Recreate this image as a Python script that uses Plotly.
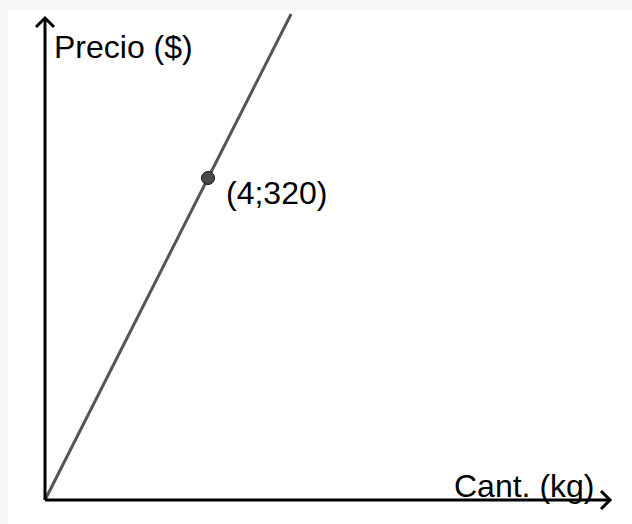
import plotly.graph_objects as go

# ---- data ----
line_x = [0, 6.04]          # kg
line_y = [0, 483]           # $
point_x = [4]
point_y = [320]
point_label = ["(4;320)"]
x_title = "Cant. (kg)"
y_title = "Precio ($)"

W, H = 632, 524
# pixel mapping (origin at pixel 45,500)
OX, OY = 45, 500
SX = 163 / 4.0      # px per kg
SY = 322 / 320.0    # px per $
x_range = [-OX / SX, (W - OX) / SX]
y_range = [-(H - OY) / SY, OY / SY]

def dx(px):
    return (px - OX) / SX

def dy(py):
    return (OY - py) / SY

fig = go.Figure()

fig.add_trace(go.Scatter(x=line_x, y=line_y, mode="lines",
                         line=dict(color="#555555", width=3),
                         hoverinfo="skip", showlegend=False))
fig.add_trace(go.Scatter(x=point_x, y=point_y, mode="markers",
                         marker=dict(size=13, color="#4a4a4a",
                                     line=dict(color="#111111", width=1)),
                         showlegend=False))

shapes = []
# white drawing area over light gray frame
shapes.append(dict(type="rect", xref="paper", yref="paper",
                   x0=8 / W, x1=1, y0=0, y1=1 - 10 / H,
                   fillcolor="white", line=dict(width=0), layer="below"))
ax_line = dict(color="black", width=3)
# y axis
shapes.append(dict(type="line", x0=0, y0=0, x1=0, y1=dy(18), line=ax_line))
shapes.append(dict(type="path",
                   path=f"M {dx(36)} {dy(27)} L {dx(45)} {dy(18)} L {dx(54)} {dy(27)}",
                   line=ax_line))
# x axis
shapes.append(dict(type="line", x0=0, y0=0, x1=dx(610), y1=0, line=ax_line))
shapes.append(dict(type="path",
                   path=f"M {dx(601)} {dy(491)} L {dx(610)} {dy(500)} L {dx(601)} {dy(509)}",
                   line=ax_line))

font = dict(family="Liberation Sans, Arial, sans-serif", size=32, color="black")
annotations = [
    dict(x=dx(52), y=dy(47), text=y_title, showarrow=False,
         xanchor="left", yanchor="middle", font=font),
    dict(x=dx(452), y=dy(486), text=x_title, showarrow=False,
         xanchor="left", yanchor="middle", font=font),
    dict(x=dx(224), y=dy(193), text=point_label[0], showarrow=False,
         xanchor="left", yanchor="middle", font=font),
]

fig.update_layout(
    width=W, height=H,
    margin=dict(l=0, r=0, t=0, b=0),
    paper_bgcolor="#f6f6f6",
    plot_bgcolor="rgba(0,0,0,0)",
    xaxis=dict(range=x_range, visible=False, fixedrange=True),
    yaxis=dict(range=y_range, visible=False, fixedrange=True),
    shapes=shapes,
    annotations=annotations,
    showlegend=False,
)

fig.write_html("out.html", config={"displayModeBar": False},
               post_script="document.body.style.margin='0';document.body.style.overflow='hidden';")
